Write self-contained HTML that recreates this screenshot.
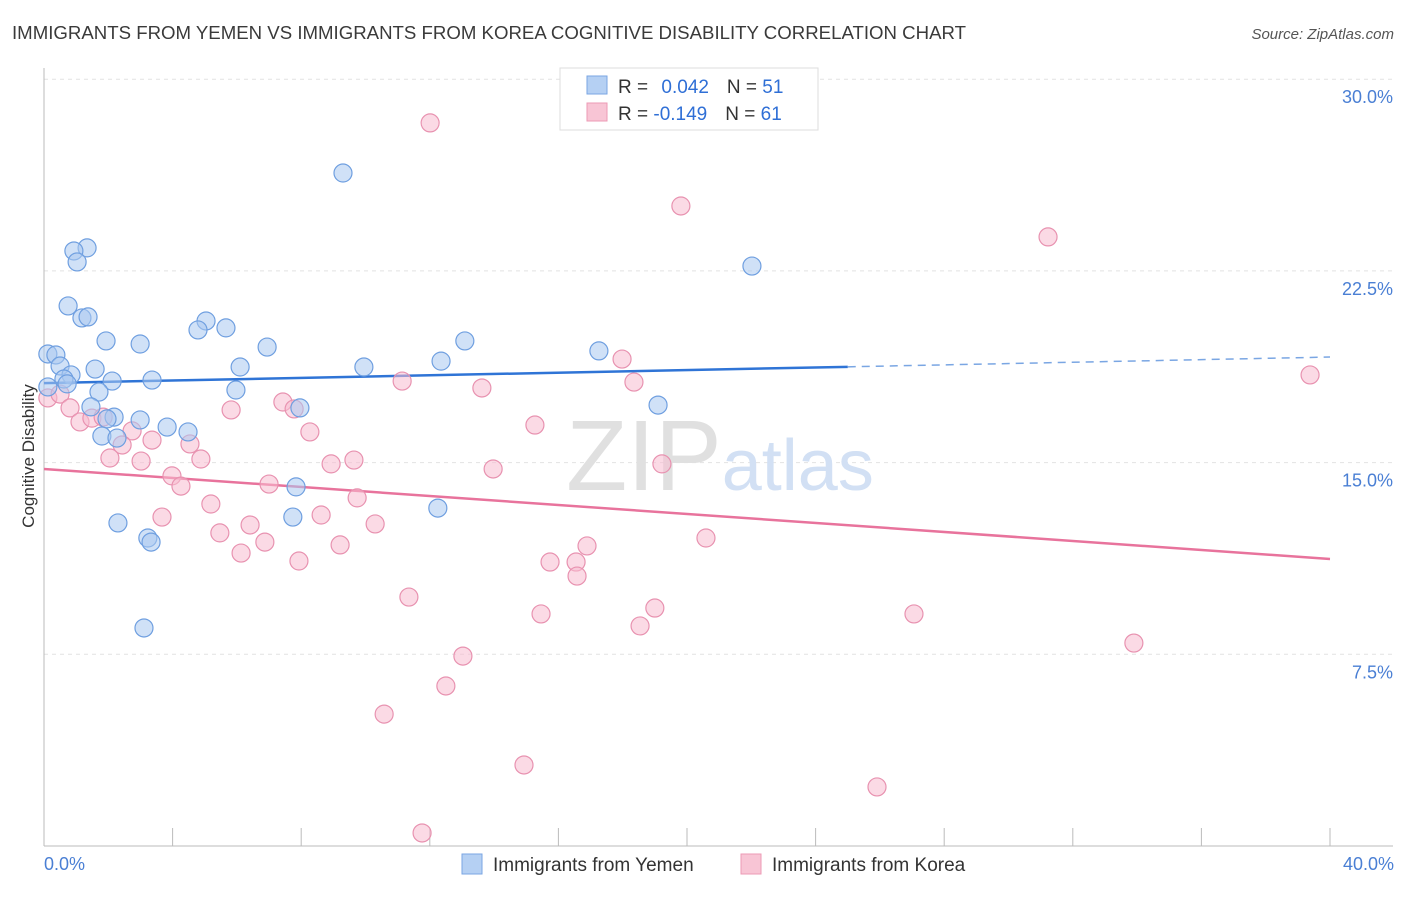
<!DOCTYPE html>
<html><head><meta charset="utf-8"><style>
body{margin:0;background:#fff;font-family:"Liberation Sans",sans-serif}
svg text{font-family:"Liberation Sans",sans-serif}
</style></head><body>
<svg id="chart" width="1406" height="892" xmlns="http://www.w3.org/2000/svg">
<text x="12" y="39" font-size="18" fill="#3a3a3a" textLength="954" lengthAdjust="spacingAndGlyphs">IMMIGRANTS FROM YEMEN VS IMMIGRANTS FROM KOREA COGNITIVE DISABILITY CORRELATION CHART</text>
<text x="1394" y="39" font-size="15" fill="#555" text-anchor="end" font-style="italic">Source: ZipAtlas.com</text>
<g id="grid"></g>
<text x="720" y="490" font-size="100" text-anchor="middle" fill="#e0e0e0" font-family="Liberation Serif,serif">ZIP<tspan fill="#d2e0f4" font-family="Liberation Sans,sans-serif" font-size="72">atlas</tspan></text>
<g id="axes"></g>
<g id="lines"></g>
<g id="points"></g>
<text transform="translate(34,456) rotate(-90)" font-size="17" fill="#333" text-anchor="middle">Cognitive Disability</text>
<text x="44" y="870" font-size="18" fill="#4a7fd4">0.0%</text>
<text x="1394" y="870" font-size="18" fill="#4a7fd4" text-anchor="end">40.0%</text>
<g>
<rect x="560" y="68" width="258" height="62" fill="#fff" stroke="#ddd"/>
<rect x="587" y="76" width="20" height="18" fill="#b5d0f3" stroke="#7aa6e3"/>
<rect x="587" y="103" width="20" height="18" fill="#f8c5d5" stroke="#ec9ab5"/>
<text x="618" y="93" font-size="19" fill="#333">R = <tspan fill="#2f6fd6" dx="8">0.042</tspan><tspan dx="18">N = </tspan><tspan fill="#2f6fd6">51</tspan></text>
<text x="618" y="120" font-size="19" fill="#333">R = <tspan fill="#2f6fd6">-0.149</tspan><tspan dx="18">N = </tspan><tspan fill="#2f6fd6">61</tspan></text>
</g>
<g>
<rect x="462" y="854" width="20" height="20" fill="#b5d0f3" stroke="#7aa6e3"/>
<text x="493" y="871" font-size="19" fill="#333">Immigrants from Yemen</text></g>
<g>
<rect x="741" y="854" width="20" height="20" fill="#f8c5d5" stroke="#ec9ab5"/>
<text x="772" y="871" font-size="19" fill="#333">Immigrants from Korea</text></g>
</svg>
<script>
const yTicks=[7.5,15,22.5,30];
const yTickLabels=["7.5%","15.0%","22.5%","30.0%"];
const yemenX=[9.30,1.34,0.93,1.03,22.02,0.75,1.18,1.37,5.04,4.79,5.66,1.93,2.99,6.94,13.09,17.26,0.12,0.37,12.35,0.50,1.59,6.10,9.95,0.84,0.62,2.12,3.36,0.72,0.12,5.97,1.71,19.10,1.46,7.96,2.18,2.99,1.96,3.83,4.48,1.80,2.27,7.84,12.25,2.30,7.74,3.23,3.33,3.11];
const yemenY=[26.33,23.40,23.28,22.85,22.69,21.13,20.66,20.70,20.54,20.19,20.27,19.76,19.64,19.52,19.76,19.37,19.25,19.21,18.97,18.78,18.66,18.74,18.74,18.43,18.27,18.19,18.23,18.08,17.96,17.84,17.76,17.25,17.18,17.14,16.78,16.67,16.71,16.39,16.20,16.04,15.96,14.05,13.22,12.64,12.87,12.05,11.89,8.53];
const koreaX=[12.01,19.81,31.23,39.38,17.98,18.35,11.14,13.62,0.12,0.50,0.81,1.12,1.49,1.84,7.43,7.78,5.82,15.27,8.27,2.74,3.36,2.43,4.54,2.05,3.02,4.88,9.64,8.93,19.22,13.97,3.98,4.26,7.00,9.74,5.19,3.67,8.62,6.41,10.30,5.47,6.87,20.59,9.21,16.89,6.13,7.93,15.74,16.55,16.58,11.35,19.00,15.46,27.06,18.54,33.90,13.03,12.50,10.58,14.93,25.91,11.76];
const koreaY=[28.29,25.04,23.83,18.43,19.05,18.15,18.19,17.92,17.53,17.68,17.14,16.59,16.74,16.78,17.37,17.10,17.06,16.47,16.20,16.24,15.88,15.69,15.73,15.18,15.06,15.14,15.10,14.95,14.95,14.75,14.48,14.08,14.16,13.62,13.38,12.87,12.95,12.56,12.60,12.25,11.89,12.05,11.78,11.74,11.46,11.15,11.11,11.11,10.56,9.74,9.31,9.08,9.08,8.61,7.94,7.43,6.26,5.16,3.17,2.31,0.51];
const yemenTrend=[18.11,19.13];
const koreaTrend=[14.75,11.23];
const NS="http://www.w3.org/2000/svg";
const xs=v=>44+v*32.15, ys=v=>846-v*25.56;
function mk(parent,tag,attrs){const e=document.createElementNS(NS,tag);for(const k in attrs)e.setAttribute(k,attrs[k]);document.getElementById(parent).appendChild(e);return e;}
yTicks.forEach((t,i)=>{
 const g=mk('grid','line',{x1:44,x2:1393,y1:ys(t),y2:ys(t),stroke:'#e2e2e2','stroke-dasharray':'4,4'});
 
 
 const l=mk('grid','text',{x:1393,y:ys(t)+24,'font-size':18,fill:'#4a7fd4','text-anchor':'end'});
 l.textContent=yTickLabels[i];
 
 
});
const ax1=mk('axes','line',{x1:44,x2:44,y1:68,y2:846,stroke:'#bbb'});


const ax2=mk('axes','line',{x1:44,x2:1393,y1:846,y2:846,stroke:'#bbb'});


for(let i=1;i<=10;i++){const t=mk('axes','line',{x1:xs(i*4),x2:xs(i*4),y1:828,y2:846,stroke:'#bbb'});
 
 }
function dot(x,y,f,s,name){const c=mk('points','circle',{cx:xs(x),cy:ys(y),r:9,fill:f,'fill-opacity':0.55,stroke:s,'stroke-width':1.2});
 
 }
koreaX.forEach((x,i)=>dot(x,koreaY[i],'#f7bcd0','#e892b0','korea-point'));
yemenX.forEach((x,i)=>dot(x,yemenY[i],'#a9c8f0','#6f9fe0','yemen-point'));
const ym=yemenTrend[0]+(yemenTrend[1]-yemenTrend[0])*25/40;
const b1=mk('lines','line',{x1:xs(0),y1:ys(yemenTrend[0]),x2:xs(25),y2:ys(ym),stroke:'#2f74d6','stroke-width':2.5});


const b2=mk('lines','line',{x1:xs(25),y1:ys(ym),x2:xs(40),y2:ys(yemenTrend[1]),stroke:'#7aa6e3','stroke-width':1.5,'stroke-dasharray':'8,6'});


const p1=mk('lines','line',{x1:xs(0),y1:ys(koreaTrend[0]),x2:xs(40),y2:ys(koreaTrend[1]),stroke:'#e8739c','stroke-width':2.5});


</script>
</body></html>
